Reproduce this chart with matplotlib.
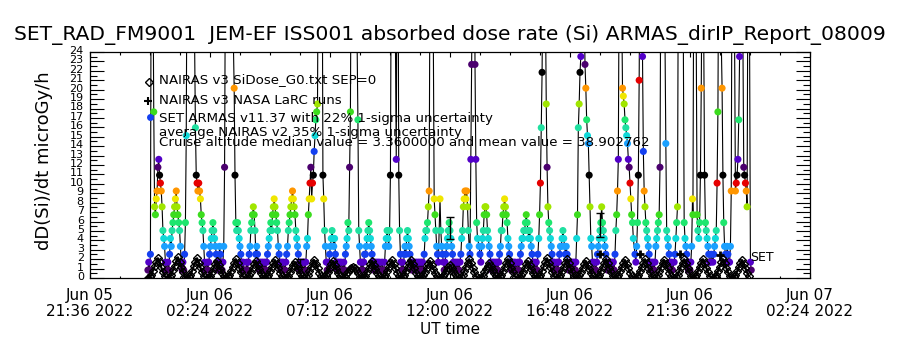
import numpy as np
import pandas as pd
import matplotlib
matplotlib.use('Agg')
import matplotlib.pyplot as plt
import matplotlib.transforms as mtransforms
from matplotlib.lines import Line2D

# ---------------- data ----------------
T0 = pd.Timestamp('2022-06-05 21:36')
DOSE_PER_COUNT = 0.84          # microGy/h per ARMAS count (median 3.36 = 4 counts)
ARMAS_CADENCE_MIN = 2
NAIRAS_CADENCE_MIN = 4

# start time of each orbit half (high-latitude pass) segment
orbit_start = ['2022-06-05 23:55', '2022-06-06 00:43', '2022-06-06 01:29', '2022-06-06 02:17',
               '2022-06-06 03:02', '2022-06-06 03:50', '2022-06-06 04:36', '2022-06-06 05:24',
               '2022-06-06 06:10', '2022-06-06 06:55', '2022-06-06 07:43', '2022-06-06 08:29',
               '2022-06-06 09:17', '2022-06-06 10:02', '2022-06-06 10:48', '2022-06-06 11:36',
               '2022-06-06 12:22', '2022-06-06 13:10', '2022-06-06 13:55', '2022-06-06 14:43',
               '2022-06-06 15:29', '2022-06-06 16:17', '2022-06-06 17:02', '2022-06-06 17:50',
               '2022-06-06 18:36', '2022-06-06 19:24', '2022-06-06 20:10', '2022-06-06 20:58',
               '2022-06-06 21:43', '2022-06-06 22:31', '2022-06-06 23:17']

# SET ARMAS counts per segment (2-minute cadence)
armas_counts = [
    "1 2 1 3 45 60 40 21 9 8 10 11 14 15 13 12 11 9 6 5 4 2 1",
    "2 1 3 5 4 6 7 8 9 10 11 9 8 7 6 4 2 1 2 1 3 7 18",
    "45 55 50 40 35 40 50 45 35 30 19 13 12 11 12 11 10 8 7 6 4 2 1",
    "2 1 2 3 4 5 6 7 6 5 4 3 2 1 2 4 3 2 1 2 4 14 40",
    "50 60 55 45 40 50 55 45 35 30 24 13 7 6 7 6 5 4 3 2 1 2 1",
    "1 2 1 2 3 4 6 7 8 9 8 6 3 4 3 2 1 2 1 2 1 2 1",
    "2 1 2 3 4 5 6 7 6 8 9 10 9 8 7 6 4 3 2 1 2 1 2",
    "1 2 3 4 6 7 8 9 10 11 10 9 8 6 5 4 3 1 2 1 2 1 2",
    "2 1 2 4 5 8 10 12 14 10 12 13 16 18 20 21 22 45 60 50 35 40 30",
    "13 10 6 4 2 1 2 1 3 4 5 6 5 4 5 3 2 1 2 1 2 1 2",
    "1 2 1 3 4 5 7 6 14 21 45 60 50 40 45 50 40 30 20 6 4 2 1",
    "2 1 2 3 3 4 5 6 7 6 5 4 3 2 1 2 1 2 1 2 1 2 1",
    "2 1 1 2 4 5 6 5 4 6 13 40 55 45 35 40 30 15 45 50 13 6 3",
    "2 1 2 1 3 4 3 5 6 5 4 3 2 1 2 1 2 1 2 1 2 1 2",
    "1 2 1 2 1 3 5 6 6 7 9 11 40 55 45 40 30 10 8 6 4 3 2",
    "10 6 4 3 2 1 2 3 4 5 6 7 6 5 4 3 2 1 2 1 2 1 2",
    "1 2 3 5 6 9 10 11 10 11 9 6 4 3 15 27 40 60 50 27 15 7 5",
    "4 3 2 4 5 6 8 9 9 8 6 5 4 3 2 1 2 1 2 1 2 1 2",
    "1 2 3 4 6 6 8 9 10 9 8 7 5 4 3 2 1 2 1 2 1 2 1",
    "2 1 2 3 4 5 5 6 6 7 8 7 6 5 6 5 4 3 2 1 2 1 2",
    "1 3 5 8 12 19 26 40 55 45 35 22 14 9 7 6 5 4 3 2 1 2 1",
    "2 1 2 3 4 4 5 6 5 4 3 4 3 2 1 2 1 2 1 2 1 2 1",
    "2 5 8 19 22 26 28 45 60 50 35 27 24 20 18 17 13 9 5 4 2 1 2",
    "1 2 3 4 5 6 7 9 7 6 5 4 3 2 1 2 1 2 1 2 1 2 1",
    "3 6 8 11 15 40 55 45 35 24 23 22 20 19 18 17 15 14 12 10 8 7 5",
    "3 2 4 7 13 25 45 60 50 28 16 11 9 7 6 5 4 3 2 1 2 1 2",
    "1 2 4 5 6 7 8 14 40 55 45 35 40 30 17 6 5 4 3 2 1 2 1",
    "2 3 5 7 9 40 55 45 35 40 50 30 7 5 4 3 2 1 2 1 2 4 10",
    "8 40 55 45 30 8 6 5 7 13 24 40 50 30 13 7 6 5 4 3 2 2 3",
    "2 3 4 5 6 12 21 45 55 40 30 24 13 7 4 3 2 4 3 2 2 4 11",
    "45 55 40 30 11 12 13 15 20 28 45 50 40 30 14 13 12 11 9 40 50 30 2 1",
]

# NAIRAS v3 SiDose per segment (4-minute cadence), microGy/h
nairas_dose = [
    "0 0.06 0.3 0.78 1.25 1.7 2.1 1.65 1.15 0.62 0.2",
    "0 0.07 0.33 0.8 1.3 1.8 2.2 1.7 1.2 0.65 0.22",
    "0 0.06 0.3 0.76 1.25 1.72 2.1 1.62 1.12 0.6 0.2",
    "0 0.05 0.26 0.66 1.08 1.48 1.8 1.4 0.98 0.54 0.18",
    "0 0.06 0.3 0.74 1.2 1.64 2.0 1.56 1.1 0.6 0.2",
    "0 0.05 0.27 0.67 1.08 1.47 1.8 1.41 0.99 0.54 0.18",
    "0 0.06 0.28 0.7 1.14 1.56 1.9 1.48 1.04 0.57 0.19",
    "0 0.05 0.25 0.63 1.02 1.4 1.7 1.33 0.94 0.51 0.17",
    "0 0.06 0.29 0.71 1.14 1.55 1.9 1.49 1.05 0.57 0.19",
    "0 0.05 0.27 0.66 1.08 1.48 1.8 1.4 0.99 0.54 0.18",
    "0 0.1 0.38 0.68 0.92 1.1 1.2 1.08 0.82 0.48 0.15",
    "0 0.05 0.26 0.67 1.08 1.47 1.8 1.41 0.98 0.54 0.18",
    "0 0.06 0.28 0.7 1.14 1.56 1.9 1.48 1.05 0.57 0.19",
    "0 0.06 0.29 0.7 1.13 1.55 1.9 1.49 1.04 0.57 0.19",
    "0 0.05 0.27 0.66 1.08 1.48 1.8 1.4 0.99 0.54 0.18",
    "0 0.04 0.21 0.52 0.84 1.15 1.4 1.09 0.77 0.42 0.14",
    "0 0.06 0.3 0.74 1.2 1.64 2.0 1.56 1.1 0.6 0.2",
    "0 0.05 0.24 0.59 0.96 1.31 1.6 1.25 0.88 0.48 0.16",
    "0 0.06 0.3 0.74 1.2 1.64 2.0 1.56 1.1 0.6 0.2",
    "0 0.05 0.27 0.67 1.08 1.48 1.8 1.4 0.99 0.54 0.18",
    "0 0.06 0.31 0.78 1.26 1.72 2.1 1.64 1.15 0.63 0.21",
    "0 0.06 0.3 0.74 1.2 1.64 2.0 1.56 1.1 0.6 0.2",
    "0 0.05 0.27 0.67 1.08 1.48 1.8 1.4 0.99 0.54 0.18",
    "0 0.06 0.3 0.74 1.2 1.64 2.0 1.56 1.1 0.6 0.2",
    "0 0.06 0.28 0.7 1.14 1.56 1.9 1.48 1.05 0.57 0.19",
    "0 0.06 0.3 0.74 1.2 1.64 2.0 1.56 1.1 0.6 0.2",
    "0 0.06 0.29 0.7 1.14 1.55 1.9 1.48 1.04 0.57 0.19",
    "0 0.06 0.3 0.75 1.2 1.63 2.0 1.55 1.1 0.6 0.2",
    "0 0.06 0.31 0.74 1.21 1.64 2.0 1.57 1.1 0.61 0.2",
    "0 0.06 0.3 0.73 1.2 1.65 2.0 1.56 1.09 0.6 0.2",
    "0 0.06 0.28 0.7 1.14 1.56 1.9 1.48 1.05 0.57 0.19",
]

# NAIRAS v3 NASA LaRC runs
larc_time = ['2022-06-06 18:00', '2022-06-06 19:36', '2022-06-06 21:12', '2022-06-06 22:48']
larc_dose = [2.5, 2.5, 2.5, 2.45]

# SET ARMAS 22% 1-sigma uncertainty bars
err_time = ['2022-06-06 06:00', '2022-06-06 12:00', '2022-06-06 18:00']
err_dose = [1.6, 5.3, 5.6]
err_sigma = [0.4, 1.2, 1.25]

# colour cycle of the ARMAS level markers
level_colors = ['#4b006e', '#5200c8', '#1440f0', '#1aa0ff', '#10d8d8', '#20e0a0',
                '#1ee66e', '#3cdc1e', '#a0e600', '#f0e600', '#ff9600', '#e60000', '#000000']

xtick_hours = [0, 4.8, 9.6, 14.4, 19.2, 24.0, 28.8]
xtick_labels = ['Jun 05\n21:36 2022', 'Jun 06\n02:24 2022', 'Jun 06\n07:12 2022',
                'Jun 06\n12:00 2022', 'Jun 06\n16:48 2022', 'Jun 06\n21:36 2022',
                'Jun 07\n02:24 2022']
ytick_values = list(range(0, 25))

title = 'SET_RAD_FM9001  JEM-EF ISS001 absorbed dose rate (Si) ARMAS_dirIP_Report_08009'
legend_lines = ['NAIRAS v3 SiDose_G0.txt SEP=0',
                'NAIRAS v3 NASA LaRC runs',
                'SET ARMAS v11.37 with 22% 1-sigma uncertainty',
                'average NAIRAS v2 35% 1-sigma uncertainty',
                'Cruise altitude median value = 3.3600000 and mean value = 38.902762']


def hours(ts):
    return (pd.Timestamp(ts) - T0).total_seconds() / 3600.0


# ---------------- build series ----------------
a_t, a_c = [], []
for st, s in zip(orbit_start, armas_counts):
    h0 = hours(st)
    vals = [int(v) for v in s.split()]
    for i, v in enumerate(vals):
        a_t.append(h0 + i * ARMAS_CADENCE_MIN / 60.0)
        a_c.append(v)
a_t = np.array(a_t)
a_c = np.array(a_c)
a_d = a_c * DOSE_PER_COUNT
a_col = [level_colors[(c - 1) % 13] for c in a_c]

n_t, n_d = [], []
for st, s in zip(orbit_start, nairas_dose):
    h0 = hours(st)
    vals = [float(v) for v in s.split()]
    for i, v in enumerate(vals):
        n_t.append(h0 + i * NAIRAS_CADENCE_MIN / 60.0)
        n_d.append(v)

# ---------------- figure ----------------
fig = plt.figure(figsize=(9, 3.5), dpi=100)
ax = fig.add_axes([90 / 900, 1 - 278 / 350, 720 / 900, 226 / 350])

ax.plot(a_t, a_d, color='k', lw=0.8, zorder=2)
ax.scatter(a_t, a_d, c=a_col, s=26, marker='o', linewidths=0, zorder=3)
ax.plot(n_t, n_d, color='k', lw=1.6, marker='D', ms=4.3, mfc='none', mec='k',
        mew=1.0, zorder=4)
ax.plot([hours(t) for t in larc_time], larc_dose, linestyle='none', marker='+',
        ms=6, mew=2, color='k', zorder=5)
ax.errorbar([hours(t) for t in err_time], err_dose, yerr=err_sigma, fmt='none',
            ecolor='k', elinewidth=1, capsize=3, capthick=1, zorder=5)
ax.text(hours('2022-06-07 00:00'), 2.2, 'SET', fontsize=9, va='center', ha='left')

ax.set_xlim(0, 28.8)
ax.set_ylim(0, 24)
ax.set_xticks(xtick_hours)
ax.set_xticklabels(xtick_labels, fontsize=11, linespacing=1.1)
ax.set_xticks(np.arange(0, 28.81, 1.2), minor=True)
ax.set_yticks(ytick_values)
ax.set_yticklabels([str(v) for v in ytick_values], fontsize=8)
ax.set_yticks(np.arange(0, 24.01, 0.5), minor=True)

ax.tick_params(axis='x', which='major', direction='in', length=3.3, width=0.8,
               top=True, bottom=True, pad=7)
ax.tick_params(axis='x', which='minor', direction='in', length=1.8, width=0.8,
               top=True, bottom=True)
ax.tick_params(axis='y', which='major', direction='in', length=10, width=0.8,
               left=True, right=True, pad=4.5)
ax.tick_params(axis='y', which='minor', direction='in', length=5, width=0.8,
               left=True, right=True)
for sp in ax.spines.values():
    sp.set_linewidth(0.9)

off = mtransforms.ScaledTranslation(0, 2 / 100, fig.dpi_scale_trans)
for lbl in ax.get_yticklabels():
    lbl.set_transform(lbl.get_transform() + off)

fig.text(0.5, 1 - 35 / 350, title, ha='center', va='center', fontsize=14.6)
fig.text(44 / 900, 1 - 161 / 350, 'dD(Si)/dt microGy/h', rotation=90,
         ha='center', va='center', fontsize=13)
fig.text(0.5, 1 - 330 / 350, 'UT time', ha='center', va='center', fontsize=11)

leg_y = [80, 100, 118, 132, 142]
for txt, yy in zip(legend_lines, leg_y):
    fig.text(159 / 900, 1 - yy / 350, txt, ha='left', va='center', fontsize=9.6)
fig.add_artist(Line2D([149 / 900], [1 - 82 / 350], transform=fig.transFigure,
                      marker='D', ms=4.3, mfc='none', mec='k', mew=1.0, linestyle='none'))
fig.add_artist(Line2D([148 / 900], [1 - 101 / 350], transform=fig.transFigure,
                      marker='+', ms=6, mew=1.5, color='k', linestyle='none'))
fig.add_artist(Line2D([150 / 900], [1 - 117 / 350], transform=fig.transFigure,
                      marker='o', ms=5, mew=0, color='#1440f0', linestyle='none'))

fig.savefig('out.png', dpi=100)
